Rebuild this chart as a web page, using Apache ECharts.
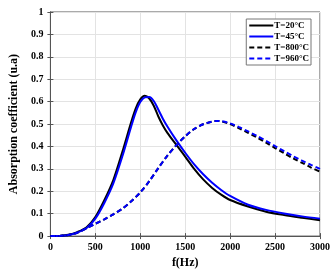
<!DOCTYPE html>
<html>
<head>
<meta charset="utf-8">
<script src="https://cdn.jsdelivr.net/npm/echarts@6/dist/echarts.min.js"></script>
<style>
html,body{margin:0;padding:0;background:#fff;}
#c{width:335px;height:274px;}
</style>
</head>
<body>
<div id="c"></div>
<script>
// Data
var seriesNames = ['T=20°C', 'T=45°C', 'T=800°C', 'T=960°C'];
var xTicks = [0, 500, 1000, 1500, 2000, 2500, 3000];
var yTicks = [0, 0.1, 0.2, 0.3, 0.4, 0.5, 0.6, 0.7, 0.8, 0.9, 1];

var freqSolid = [0, 100, 200, 300, 400, 500, 600, 700, 800, 900, 950, 1000, 1050, 1100, 1150, 1200, 1250, 1300, 1400, 1500, 1600, 1700, 1800, 1900, 2000, 2200, 2400, 2600, 2800, 3000];
var t20 =  [0, 0.001, 0.006, 0.018, 0.038, 0.085, 0.16, 0.25, 0.375, 0.51, 0.57, 0.61, 0.626, 0.614, 0.582, 0.535, 0.495, 0.462, 0.408, 0.355, 0.3, 0.253, 0.215, 0.185, 0.161, 0.132, 0.109, 0.094, 0.082, 0.071];
var t45 =  [0, 0.001, 0.005, 0.016, 0.035, 0.078, 0.148, 0.235, 0.355, 0.49, 0.553, 0.598, 0.619, 0.621, 0.603, 0.565, 0.525, 0.49, 0.428, 0.372, 0.32, 0.276, 0.238, 0.206, 0.179, 0.14, 0.117, 0.101, 0.088, 0.078];

var freqDash = [0, 100, 200, 300, 400, 500, 600, 700, 800, 900, 1000, 1100, 1200, 1300, 1400, 1500, 1600, 1700, 1800, 1850, 1900, 2000, 2100, 2200, 2300, 2400, 2500, 2600, 2700, 2800, 2900, 3000];
var t800 = [0, 0.001, 0.005, 0.015, 0.035, 0.055, 0.075, 0.097, 0.122, 0.155, 0.195, 0.245, 0.303, 0.358, 0.405, 0.445, 0.478, 0.499, 0.511, 0.514, 0.512, 0.5, 0.481, 0.461, 0.44, 0.417, 0.393, 0.37, 0.347, 0.327, 0.306, 0.287];
var t960 = [0, 0.001, 0.005, 0.015, 0.035, 0.055, 0.075, 0.097, 0.122, 0.155, 0.195, 0.245, 0.303, 0.358, 0.405, 0.445, 0.478, 0.499, 0.511, 0.514, 0.513, 0.503, 0.486, 0.467, 0.447, 0.425, 0.402, 0.379, 0.357, 0.337, 0.318, 0.300];

function pairs(xs, ys) { return xs.map(function (x, i) { return [x, ys[i]]; }); }

var font = '"Liberation Serif", "Times New Roman", serif';
var chart = echarts.init(document.getElementById('c'), null, {renderer: 'canvas'});

function mkLine(name, xs, ys, color, dashed) {
  return {
    name: name, type: 'line', data: pairs(xs, ys), smooth: 0.3,
    symbol: 'none', showSymbol: false,
    lineStyle: {color: color, width: 2, type: dashed ? [5, 3] : 'solid'},
    itemStyle: {color: color}
  };
}

var axisLineStyle = {show: true, lineStyle: {color: '#555', width: 1}};
chart.setOption({
  animation: false,
  backgroundColor: '#fff',
  grid: {left: 45, right: 15, top: 12, bottom: 31, show: true, borderColor: '#555', borderWidth: 1, backgroundColor: '#fff'},
  legend: {
    data: seriesNames, orient: 'vertical', right: 24, top: 19,
    backgroundColor: '#fff', borderColor: '#777', borderWidth: 1,
    padding: [2, 2, 2, 2], itemGap: 2, itemWidth: 24, itemHeight: 10,
    itemStyle: {opacity: 0, borderWidth: 0},
    textStyle: {fontFamily: font, fontWeight: 'bold', fontSize: 9, color: '#000', padding: [0, 0, 0, -4]}
  },
  xAxis: [{
    type: 'value', min: xTicks[0], max: xTicks[xTicks.length - 1], interval: 500,
    name: 'f(Hz)', nameLocation: 'middle', nameGap: 19,
    nameTextStyle: {fontFamily: font, fontWeight: 'bold', fontSize: 12, color: '#000'},
    axisLine: axisLineStyle, axisTick: {show: true, inside: true, length: 3, lineStyle: {color: '#555'}},
    axisLabel: {fontFamily: font, fontWeight: 'bold', fontSize: 10, color: '#000', margin: 6,
      formatter: function (v) { return String(v); }},
    splitLine: {show: true, lineStyle: {color: '#e3e3e3', width: 1}}
  }, {
    type: 'value', position: 'top', min: xTicks[0], max: xTicks[xTicks.length - 1], interval: 500,
    axisLine: axisLineStyle, axisTick: {show: true, inside: true, length: 3, lineStyle: {color: '#555'}},
    axisLabel: {show: false}, splitLine: {show: false}
  }],
  yAxis: [{
    type: 'value', min: yTicks[0], max: yTicks[yTicks.length - 1], interval: 0.1,
    name: 'Absorption coefficient (u.a)', nameLocation: 'middle', nameGap: 27,
    nameTextStyle: {fontFamily: font, fontWeight: 'bold', fontSize: 12, color: '#000'},
    axisLine: axisLineStyle, axisTick: {show: true, inside: true, length: 3, lineStyle: {color: '#555'}},
    axisLabel: {fontFamily: font, fontWeight: 'bold', fontSize: 10, color: '#000', margin: 7,
      formatter: function (v) { return String(Math.round(v * 10) / 10); }},
    splitLine: {show: true, lineStyle: {color: '#e3e3e3', width: 1}}
  }, {
    type: 'value', position: 'right', min: yTicks[0], max: yTicks[yTicks.length - 1], interval: 0.1,
    axisLine: axisLineStyle, axisTick: {show: true, inside: true, length: 3, lineStyle: {color: '#555'}},
    axisLabel: {show: false}, splitLine: {show: false}
  }],
  series: [
    mkLine(seriesNames[0], freqSolid, t20, '#000000', false),
    mkLine(seriesNames[1], freqSolid, t45, '#0000ff', false),
    mkLine(seriesNames[2], freqDash, t800, '#000000', true),
    mkLine(seriesNames[3], freqDash, t960, '#0000ff', true)
  ]
});
</script>
</body>
</html>
